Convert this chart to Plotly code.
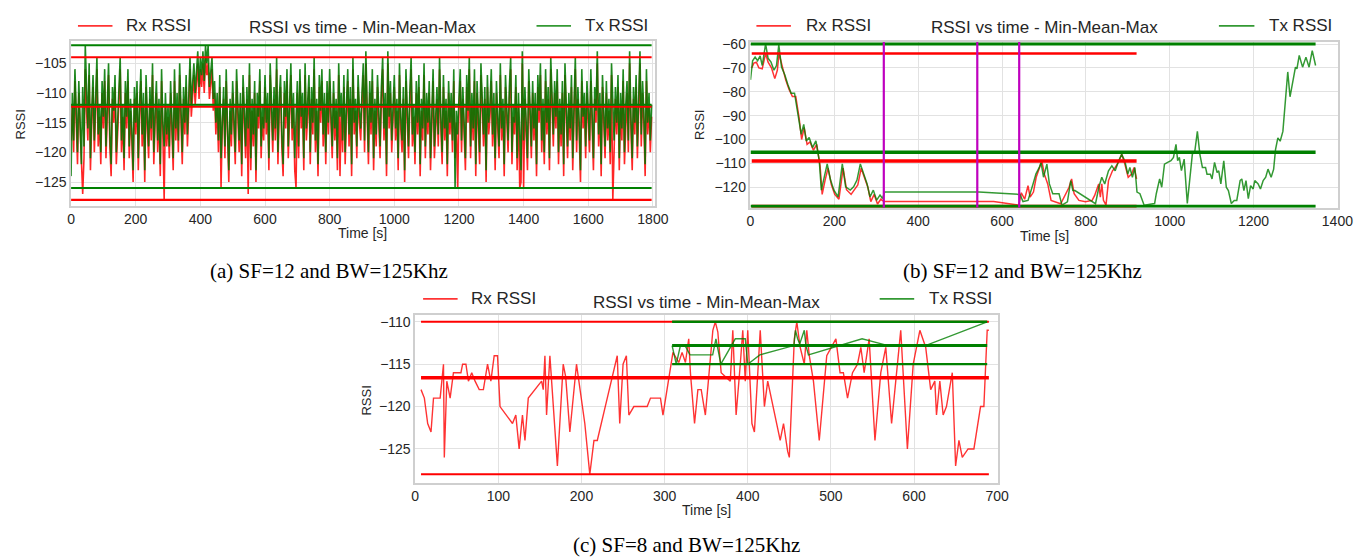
import plotly.graph_objects as go

W, H = 1369, 558
RED = "#ff0000"
GREEN = "#008000"
MAGENTA = "#bf00bf"
RED_A = "rgba(255,0,0,0.8)"
GREEN_A = "rgba(0,128,0,0.8)"
RED_A_DENSE = "rgba(255,0,0,0.85)"
GREEN_A_DENSE = "rgba(0,120,0,0.88)"

# ---------------- (a) SF=12, BW=125kHz : 0..1800 s (one sample every 4 s) ----------------
A_STEP = 4
A_TX = [-124, -110, -118, -106, -113, -120, -108, -115, -122, -109, -119, -102, -111, -116, -105, -121, -113, -107, -118, -110, -104, -117, -112, -120, -108,
        -114, -106, -119, -111, -105, -117, -122, -109, -113, -107, -120, -115, -110, -104, -118, -112, -121, -108, -114, -106, -119, -111, -116, -123, -109,
        -115, -108, -121, -112, -106, -117, -110, -123, -107, -114, -119, -109, -116, -105, -120, -113, -108, -118, -111, -122, -106, -115, -119, -110, -117,
        -112, -119, -108, -114, -121, -106, -116, -110, -118, -105, -113, -120, -109, -115, -107, -117, -111, -104, -112, -108, -105, -110, -106, -103, -109,
        -104, -107, -103, -108, -102, -105, -102, -109, -106, -104, -111, -108, -115, -110, -118, -107, -121, -113, -109, -119, -106, -116, -123, -111, -117,
        -108, -114, -120, -106, -112, -118, -110, -122, -107, -115, -119, -109, -116, -105, -121, -111, -117, -108, -123, -110, -114, -106, -119, -112, -116,
        -107, -115, -110, -121, -105, -113, -118, -109, -116, -104, -120, -111, -107, -117, -122, -108, -114, -106, -119, -112, -105, -116, -110, -121, -113,
        -108, -119, -106, -114, -110, -121, -105, -116, -112, -107, -120, -109, -115, -104, -118, -111, -122, -107, -113, -106, -117, -110, -120, -108, -115,
        -106, -113, -119, -108, -116, -111, -121, -105, -114, -110, -118, -107, -120, -112, -106, -117, -109, -122, -104, -115, -111, -119, -107, -113, -116,
        -110, -105, -118, -103, -112, -120, -108, -115, -106, -121, -111, -117, -107, -113, -119, -109, -104, -116, -110, -122, -103, -114, -108, -118, -112,
        -107, -116, -111, -121, -105, -114, -118, -109, -123, -106, -113, -119, -110, -104, -117, -112, -120, -108, -115, -107, -122, -111, -116, -105, -119,
        -110, -115, -108, -121, -112, -106, -119, -113, -109, -117, -104, -114, -120, -107, -116, -111, -122, -108, -115, -110, -118, -106, -126, -113, -117,
        -111, -106, -118, -109, -115, -121, -107, -113, -104, -119, -110, -116, -106, -122, -108, -114, -120, -105, -111, -117, -109, -123, -107, -115, -112,
        -106, -117, -110, -121, -108, -114, -119, -105, -116, -111, -122, -107, -113, -118, -109, -104, -120, -112, -115, -107, -121, -110, -117, -123, -103,
        -118, -109, -115, -121, -106, -112, -119, -108, -116, -110, -122, -107, -113, -105, -118, -111, -120, -106, -115, -109, -121, -104, -113, -117, -108,
        -114, -106, -120, -111, -117, -108, -122, -105, -113, -119, -110, -116, -107, -121, -112, -104, -118, -109, -115, -123, -106, -114, -110, -119, -108,
        -112, -118, -106, -115, -121, -109, -113, -103, -117, -110, -122, -107, -114, -119, -108, -116, -111, -120, -105, -113, -118, -109, -115, -107, -121,
        -110, -116, -106, -120, -112, -108, -118, -103, -114, -121, -109, -115, -107, -119, -111, -103, -117, -108, -113, -122, -106, -115, -110, -118, -112]
A_RX = [-118, -112, -120, -108, -115, -122, -110, -117, -124, -127, -121, -106, -113, -118, -107, -123, -115, -109, -120, -112, -106, -119, -114, -122, -110,
        -116, -108, -121, -113, -107, -119, -124, -111, -115, -109, -122, -117, -112, -106, -120, -114, -123, -110, -116, -108, -121, -113, -118, -125, -111,
        -117, -110, -123, -114, -108, -119, -112, -125, -109, -116, -121, -111, -118, -107, -122, -115, -110, -120, -113, -124, -108, -117, -128, -112, -119,
        -114, -121, -110, -116, -123, -108, -118, -112, -120, -107, -115, -122, -111, -117, -109, -119, -113, -106, -114, -110, -107, -112, -108, -105, -111,
        -106, -109, -105, -110, -104, -107, -105, -111, -108, -106, -113, -110, -117, -112, -120, -109, -126, -115, -111, -121, -108, -118, -125, -113, -119,
        -110, -116, -122, -108, -114, -120, -112, -124, -109, -117, -121, -111, -127, -107, -123, -113, -119, -110, -125, -112, -116, -108, -121, -114, -118,
        -109, -117, -112, -123, -107, -115, -120, -111, -118, -106, -122, -113, -109, -119, -124, -110, -116, -108, -121, -114, -107, -118, -112, -123, -126,
        -110, -121, -108, -116, -112, -123, -107, -118, -114, -109, -122, -111, -117, -106, -120, -113, -124, -109, -115, -108, -119, -112, -122, -110, -117,
        -108, -115, -121, -110, -118, -113, -123, -107, -124, -112, -120, -109, -122, -114, -108, -119, -111, -124, -106, -117, -113, -121, -109, -115, -118,
        -112, -107, -120, -105, -114, -122, -110, -117, -108, -123, -113, -119, -109, -115, -121, -111, -106, -118, -112, -124, -105, -116, -110, -120, -114,
        -109, -118, -113, -123, -107, -116, -120, -111, -125, -108, -115, -121, -112, -106, -119, -114, -122, -110, -117, -109, -124, -113, -118, -107, -121,
        -112, -117, -110, -123, -114, -108, -121, -115, -111, -119, -106, -116, -122, -109, -118, -113, -124, -110, -117, -112, -120, -108, -121, -115, -126,
        -113, -108, -120, -111, -117, -123, -109, -115, -106, -121, -112, -118, -108, -124, -110, -116, -122, -107, -113, -119, -111, -125, -109, -117, -114,
        -108, -119, -112, -123, -110, -116, -121, -107, -118, -113, -124, -109, -115, -120, -111, -106, -122, -114, -117, -109, -123, -112, -126, -125, -105,
        -126, -111, -117, -123, -108, -114, -121, -110, -118, -112, -124, -109, -115, -107, -120, -113, -122, -108, -117, -111, -123, -106, -115, -119, -110,
        -116, -108, -122, -113, -119, -110, -124, -107, -115, -121, -112, -118, -109, -123, -114, -106, -120, -111, -117, -125, -108, -116, -112, -121, -110,
        -114, -120, -108, -117, -123, -111, -115, -105, -119, -112, -124, -109, -116, -121, -110, -118, -113, -122, -107, -128, -120, -111, -117, -109, -123,
        -112, -118, -108, -122, -114, -110, -120, -105, -116, -123, -111, -117, -109, -121, -113, -105, -119, -110, -115, -124, -108, -117, -112, -120, -114]
A_TIME = [i * A_STEP for i in range(len(A_TX))]
A_RX_STATS = [-128, -112.3, -104]   # min, mean, max
A_TX_STATS = [-126, -112, -102]

# ---------------- (b) SF=12, BW=125kHz : 0..1350 s ----------------
B_TX_T = [0, 5, 11, 17, 23, 28, 36, 42, 49, 56, 62, 67.5, 74, 82, 89, 97, 105, 113, 121, 127, 133, 140, 148, 156, 164, 169, 176, 183, 191, 199,
          209, 219, 227, 238, 246, 254, 262, 270, 278, 285, 293, 301, 309, 315, 320, 545, 643, 650, 662, 674, 681, 689, 693, 699, 707, 713, 721, 736,
          743, 756, 764, 769, 774, 823, 831, 838, 845, 854, 862, 870, 878, 885.5, 893, 900, 905, 911, 917, 922, 929, 939, 964, 968, 976, 981, 987.5,
          995, 1003, 1009, 1015, 1019, 1023, 1028, 1034.5, 1042, 1050, 1054, 1060, 1066, 1072, 1078, 1085.5, 1089, 1097, 1101, 1107, 1113, 1117, 1122,
          1129, 1135, 1140, 1147, 1154, 1160, 1168, 1172, 1177, 1182, 1187.5, 1193, 1199, 1203, 1211, 1216.5, 1223, 1229, 1234.5, 1242, 1248, 1252.5,
          1258, 1263.5, 1270, 1276, 1281.6, 1287, 1292, 1300, 1303.5, 1309, 1317, 1325, 1332.5, 1340, 1348]
B_TX = [-75, -67, -65.5, -67, -65, -69, -60, -66, -67.6, -71, -69, -60.4, -69.7, -73, -77, -80.6, -80.6, -89.5, -97.8, -93.7, -100.6, -99.2, -103.4,
        -100.6, -108.8, -121.2, -115.7, -110.2, -117, -121.2, -124, -110.2, -119.8, -121.2, -119.8, -117, -110.2, -114.3, -118.5, -124, -121.2, -125.4,
        -123.3, -124.7, -122, -122, -123, -126, -125.5, -118.6, -114.4, -111.7, -109.6, -115.8, -110.3, -118.6, -122.7, -122.7, -127.5, -126.1, -117.2,
        -121.4, -121.4, -126.9, -120, -115.8, -118.6, -113.1, -111, -113.1, -109, -106.2, -109, -114.5, -111.7, -115.8, -111.7, -122, -122.7, -127.5,
        -126.8, -122.7, -116.5, -120, -110.3, -109.6, -108.9, -107.5, -102, -108.9, -107.5, -113, -108.2, -126.8, -111.7, -106.2, -104.8, -96.6,
        -106.2, -111.7, -111.7, -114.5, -114.5, -116.5, -109.6, -113.8, -113.1, -118.6, -108.9, -120, -121.4, -126.8, -125.5, -125.5, -117.2, -116.5,
        -121.4, -117.2, -124.8, -119.3, -120.7, -117.2, -118.6, -120.7, -117.2, -115.8, -112.4, -115.8, -112.4, -104.1, -99.3, -100.7, -96.6, -81.4,
        -71.7, -82.1, -76.6, -69.7, -70.4, -64.8, -69.7, -65.5, -69.7, -62.8, -69]
B_RX_T = [3, 8, 14, 20, 28, 36, 42, 50, 58, 64, 68, 76, 84, 92, 100, 108, 116, 122, 128, 135, 142, 150, 158, 166, 171, 178, 185, 193, 201, 211,
          221, 229, 240, 248, 256, 264, 272, 280, 287, 295, 303, 311, 318, 580, 640, 646, 654, 662, 667, 675, 681.5, 689, 695, 701, 709, 717, 729,
          740, 760, 766, 772, 783.5, 799, 815, 821, 830.6, 834.5, 838, 842, 848, 854, 863.5, 870, 877.6, 885.5, 893, 901, 909, 915, 921]
B_RX = [-70, -68, -67.6, -70, -70.4, -64, -67.6, -70, -74.5, -71, -64, -70, -75, -79, -82, -82, -91, -100, -95, -102, -101, -104.5, -102, -111,
        -123, -117, -112, -119, -123, -125, -112, -121, -123, -121, -119, -112, -116, -120, -126, -123, -127, -125, -126, -126, -127.5, -122.3,
        -125, -119.3, -124.1, -122, -115.8, -111.7, -109, -114.5, -118.6, -125.5, -126.1, -126.9, -120, -116.5, -122.7, -125.5, -126.1, -125.5,
        -123.4, -118.6, -124.1, -118.6, -125.5, -127.5, -117.2, -113.1, -111.7, -109.6, -106.2, -110.3, -115.8, -114.5, -111.7, -116.5]
B_RX_STATS = [-128, -109, -64]
B_TX_STATS = [-128, -105.3, -60]
B_MARKERS = [318, 541, 641]

# ---------------- (c) SF=8, BW=125kHz : 0..700 s ----------------
C_RX_T = [7, 11, 15, 19, 22, 30, 34, 35, 38, 42, 46, 55, 57, 61, 64, 68, 72, 77, 82, 87, 91, 95, 99, 102, 117, 121, 125, 129, 132, 136, 152,
          154, 156, 158, 162, 171, 178, 181, 186, 194, 204, 210, 215, 219, 231, 243, 246, 250, 254, 257, 263, 279, 283, 295, 298, 310, 317, 321,
          325, 329, 331, 336, 340, 344, 349, 358, 361, 364, 368, 379, 382, 386, 391, 394, 397, 400, 405, 408, 415, 420, 424, 439, 443, 448, 450,
          456, 459, 463, 468, 471, 474, 479, 486, 491, 495, 506, 511, 515, 520, 526, 532, 536, 540, 546, 553, 560, 566, 573, 584, 592, 599, 607,
          614, 620, 625, 627, 631, 635, 639, 646, 650, 654, 658, 665, 672, 680, 684, 688, 690]
C_RX = [-118, -119, -122, -123, -119, -119, -115, -126, -117, -119, -116, -116, -115, -115, -117, -116, -117, -118, -118, -115, -117, -114, -114,
        -120, -122, -121, -125, -121, -124, -119, -117, -118, -114, -121, -114, -127, -115, -116.5, -123, -115, -122, -128, -124, -124, -119, -114,
        -122, -115, -114, -121, -120, -120, -119, -119, -121, -113.6, -114.8, -113.6, -114.8, -112, -116, -122, -118, -118, -121, -111, -110,
        -111.2, -116, -117, -111, -121, -115, -111, -117, -111, -122, -123, -111, -120, -117, -124, -122, -125.3, -126, -112, -110, -113, -115,
        -111, -114, -117, -124, -118, -114, -112, -116, -116, -119, -116, -115, -113, -116, -112, -124, -116, -113, -122, -111, -125, -115, -111,
        -113, -118, -117, -121, -117, -121, -120, -116, -127, -124, -126, -125, -125, -120, -120, -111, -111]
C_TX_T = [309, 314, 319, 324.6, 330.5, 357.8, 361.7, 367.6, 385, 397, 400, 414.5, 455.5, 457.4, 460, 462.5, 468, 470, 473, 537.5, 568.8, 613.7, 688]
C_TX = [-112.8, -115, -112.8, -112.8, -113.9, -113.9, -112, -115, -112, -112, -115, -113.9, -112.8, -111, -112, -112.6, -111, -112.8, -113.9,
        -112, -112.8, -112.8, -110]
C_RX_STATS = [-128, -116.6, -110]
C_TX_STATS = [-115, -112.8, -110]

TITLE = "RSSI vs time - Min-Mean-Max"
CAPTIONS = ["(a) SF=12 and BW=125Khz", "(b) SF=12 and BW=125Khz", "(c) SF=8 and BW=125Khz"]

# ------------------------------------------------------------------
fig = go.Figure()


def px(p):
    return p / W


def py(p):
    return 1 - p / H


def series(x, y, color, xa, ya, width):
    fig.add_trace(go.Scatter(x=x, y=y, mode="lines", line=dict(color=color, width=width),
                             xaxis=xa, yaxis=ya, showlegend=False, hoverinfo="skip"))


def stats(x, vals, color, widths, xa, ya):
    for v, w in zip(vals, widths):
        fig.add_trace(go.Scatter(x=[min(x), max(x)], y=[v, v], mode="lines",
                                 line=dict(color=color, width=w), xaxis=xa, yaxis=ya,
                                 showlegend=False, hoverinfo="skip"))


# (a)
series(A_TIME, A_RX, RED_A_DENSE, "x", "y", 1.6)
series(A_TIME, A_TX, GREEN_A_DENSE, "x", "y", 1.6)
stats(A_TIME, A_RX_STATS, RED, [2.2, 2.2, 2.2], "x", "y")
stats(A_TIME, A_TX_STATS, GREEN, [2, 2, 2], "x", "y")

# (b)
series(B_RX_T, B_RX, RED_A, "x2", "y2", 1.5)
series(B_TX_T, B_TX, GREEN_A, "x2", "y2", 1.5)
stats(B_RX_T, B_RX_STATS, RED, [3, 3.5, 2.5], "x2", "y2")
stats(B_TX_T, B_TX_STATS, GREEN, [3, 3.5, 3], "x2", "y2")
B_YR = [-128.6, -59]
for m in B_MARKERS:
    fig.add_trace(go.Scatter(x=[m, m], y=B_YR, mode="lines", line=dict(color=MAGENTA, width=2.2),
                             xaxis="x2", yaxis="y2", showlegend=False, hoverinfo="skip"))

# (c)
series(C_RX_T, C_RX, RED_A, "x3", "y3", 1.4)
series(C_TX_T, C_TX, GREEN_A, "x3", "y3", 1.4)
stats(C_RX_T, C_RX_STATS, RED, [2, 3.5, 2], "x3", "y3")
stats(C_TX_T, C_TX_STATS, GREEN, [2.2, 3, 2.5], "x3", "y3")

TICKFONT = dict(family="Liberation Sans, Arial, sans-serif", size=14, color="#262626")


def axis(domain, rng, dtick, anchor):
    return dict(domain=domain, range=rng, dtick=dtick, tick0=0, anchor=anchor,
                showgrid=True, gridcolor="#e2e2e2", gridwidth=1, zeroline=False,
                showline=True, linecolor="#cfcfcf", linewidth=1.5, mirror=True,
                ticks="", tickfont=TICKFONT, fixedrange=True)


layout = dict(
    width=W, height=H, autosize=False,
    margin=dict(l=0, r=0, t=0, b=0),
    paper_bgcolor="white", plot_bgcolor="white",
    xaxis=axis([px(68), px(660)], [0, 1806], 200, "y"),
    yaxis=axis([py(202), py(35)], [-129, -101.2], 5, "x"),
    xaxis2=axis([px(757), px(1353)], [0, 1402], 200, "y2"),
    yaxis2=axis([py(204), py(36)], B_YR, 10, "x2"),
    xaxis3=axis([px(417), px(1008)], [0, 701], 100, "y3"),
    yaxis3=axis([py(482), py(312)], [-129, -109.15], 5, "x3"),
)
fig.update_layout(**layout)

SANS = "Liberation Sans, Arial, sans-serif"
SERIF = "Liberation Serif, Times New Roman, serif"
ann = []
shapes = []


def text(t, x, y, size, xanchor="center", angle=0, family=SANS, color="#262626"):
    ann.append(dict(text=t, x=px(x), y=py(y), xref="paper", yref="paper", showarrow=False,
                    xanchor=xanchor, yanchor="middle", textangle=angle,
                    font=dict(family=family, size=size, color=color)))


def legend_item(label, color, x0, x1, y, tx):
    shapes.append(dict(type="line", xref="paper", yref="paper", x0=px(x0), x1=px(x1),
                       y0=py(y), y1=py(y), line=dict(color=color, width=1.8)))
    text(label, tx, y, 17, xanchor="left")


# panel (a)
text(TITLE, 364, 22, 17)
legend_item("Rx RSSI", RED_A, 75, 110, 20, 122)
legend_item("Tx RSSI", GREEN_A, 540, 575, 20, 587)
text("RSSI", 17, 120, 13, angle=-90)
text("Time [s]", 364, 229, 14)
text(CAPTIONS[0], 330, 268, 21, family=SERIF, color="black")

# panel (b)
text(TITLE, 1055, 22, 17)
legend_item("Rx RSSI", RED_A, 763, 798, 20, 811)
legend_item("Tx RSSI", GREEN_A, 1232, 1268, 20, 1281)
text("RSSI", 706, 120, 13, angle=-90)
text("Time [s]", 1055, 232, 14)
text(CAPTIONS[1], 1033, 268, 21, family=SERIF, color="black")

# panel (c)
text(TITLE, 712, 300, 17)
legend_item("Rx RSSI", RED_A, 425, 460, 296, 472)
legend_item("Tx RSSI", GREEN_A, 888, 923, 296, 936)
text("RSSI", 368, 399, 13, angle=-90)
text("Time [s]", 712, 509, 14)
text(CAPTIONS[2], 692, 545, 21, family=SERIF, color="black")

fig.update_layout(annotations=ann, shapes=shapes)

fig.write_html("out.html", config={"displayModeBar": False},
               post_script="document.body.style.margin='0';")
